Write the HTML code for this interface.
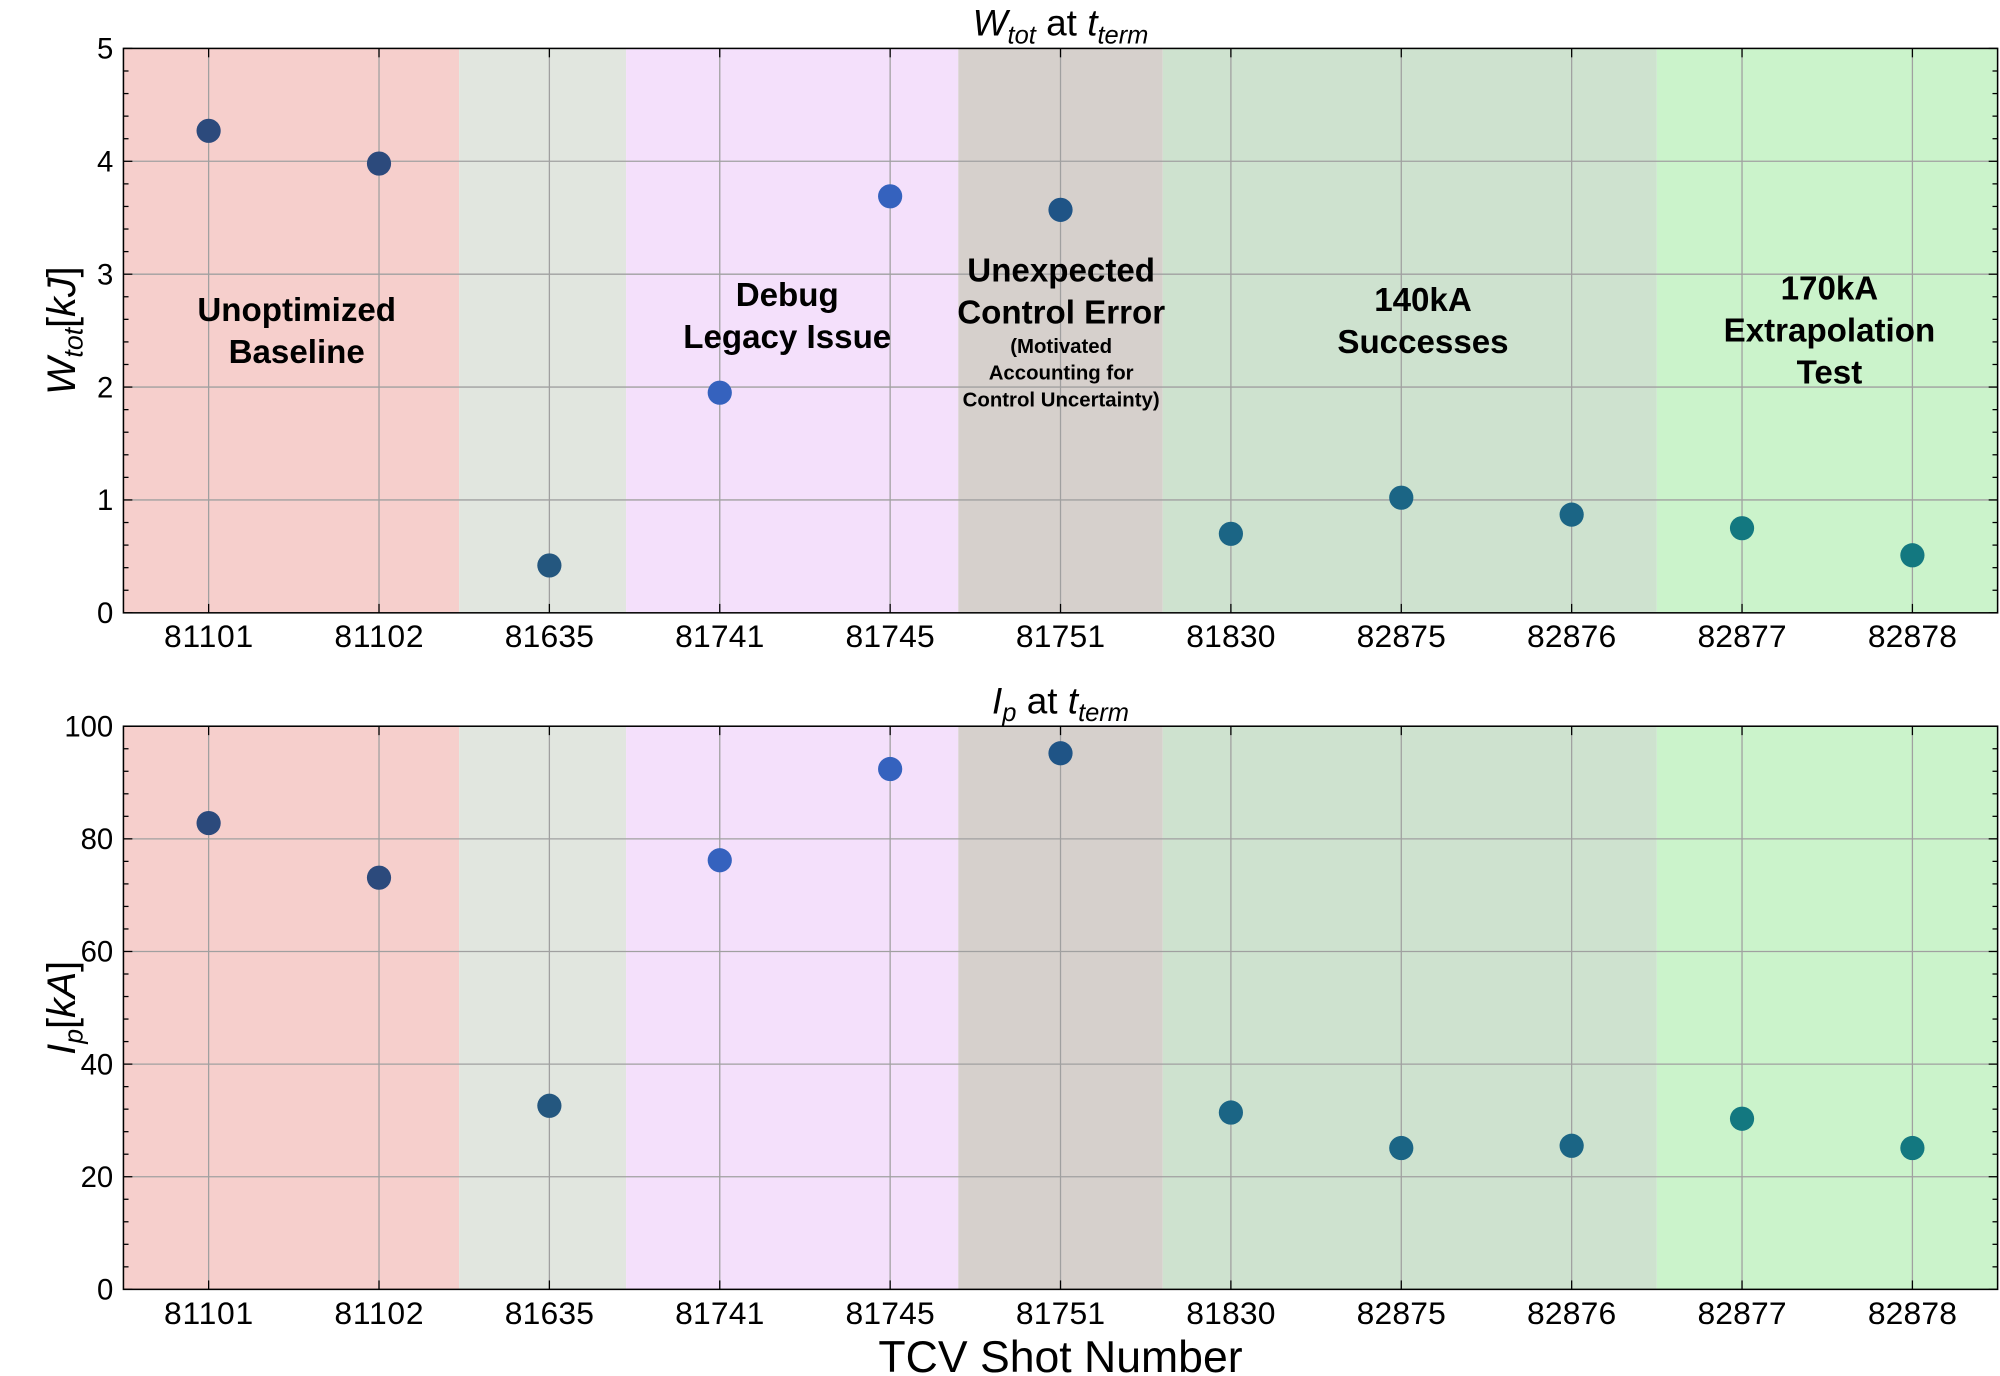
<!DOCTYPE html>
<html><head><meta charset="utf-8"><style>
html,body{margin:0;padding:0;background:#fff}
svg{display:block;font-family:"Liberation Sans",sans-serif}
</style></head><body>
<svg id="chart" width="2000" height="1376" viewBox="0 0 1568 1080" xmlns="http://www.w3.org/2000/svg"></svg>
<script>
const shots=["81101","81102","81635","81741","81745","81751","81830","82875","82876","82877","82878"];
const wtot=[4.27,3.98,0.42,1.95,3.69,3.57,0.70,1.02,0.87,0.75,0.51];
const ip=[82.8,73.1,32.6,76.2,92.4,95.2,31.4,25.1,25.5,30.3,25.1];
const pointColors=["#2c4a7c","#2c4a7c","#24577f","#3562be","#3562be","#1f5486","#1b6585","#1b6585","#1b6585","#137880","#137880"];
const bandStarts=[-0.5,1.47,2.45,4.40,5.6,8.5];
const bandEnds=[1.47,2.45,4.40,5.6,8.5,10.5];
const bandColors=["#f6cfcc","#e1e6df","#f4e0fb","#d6d0cc","#cee2cf","#cbf3cb"];
const svg=document.getElementById('chart');
const NS="http://www.w3.org/2000/svg";
function mk(tag,attrs,parent){const e=document.createElementNS(NS,tag);for(const k in attrs)e.setAttribute(k,attrs[k]);(parent||svg).appendChild(e);return e;}
const X0=96,X1=1567;
function xs(i){return X0+(i+0.5)/11*(X1-X0);}
function panel(name,top,bot,ymax,step,vals,title,ylab){
  const g=mk('g',{});
  
  
  const ys=v=>bot-(v/ymax)*(bot-top);
  bandStarts.forEach((s,i)=>{
    const r=mk('rect',{x:xs(s),y:top,width:xs(bandEnds[i])-xs(s),height:bot-top,fill:bandColors[i]},g);
    
    
  });
  for(let v=0;v<=ymax+1e-9;v+=step){
    const y=ys(v);
    if(v>0&&v<ymax) mk('line',{x1:X0,x2:X1,y1:y,y2:y,stroke:'#a0a0a0','stroke-width':1},g);
    const t=mk('text',{x:X0-8,y:y+8,'text-anchor':'end','font-size':23,fill:'#000'},g);t.textContent=v;
    
    
    mk('line',{x1:X0,x2:X0+7,y1:y,y2:y,stroke:'#000'},g);
    mk('line',{x1:X1,x2:X1-7,y1:y,y2:y,stroke:'#000'},g);
    if(v<ymax){for(let m=1;m<5;m++){const ym=ys(v+step*m/5);mk('line',{x1:X0,x2:X0+4,y1:ym,y2:ym,stroke:'#000'},g);mk('line',{x1:X1,x2:X1-4,y1:ym,y2:ym,stroke:'#000'},g);}}
  }
  shots.forEach((s,i)=>{
    const x=xs(i);
    mk('line',{x1:x,x2:x,y1:top,y2:bot,stroke:'#a0a0a0','stroke-width':1},g);
    mk('line',{x1:x,x2:x,y1:bot,y2:bot-7,stroke:'#000'},g);
    mk('line',{x1:x,x2:x,y1:top,y2:top+7,stroke:'#000'},g);
    const t=mk('text',{x:x,y:bot+27,'text-anchor':'middle','font-size':25,'textLength':70,fill:'#000'},g);t.textContent=s;
    
    
  });
  mk('rect',{x:X0,y:top,width:X1-X0,height:bot-top,fill:'none',stroke:'#000','stroke-width':1.2},g);
  vals.forEach((v,i)=>{
    const c=mk('circle',{cx:xs(i),cy:ys(v),r:9.5,fill:pointColors[i]},g);
    
    
  });
  const tt=mk('text',{x:(X0+X1)/2,y:top-10,'text-anchor':'middle','font-size':29},g);
  tt.innerHTML=title;
  
  
  const yl=mk('text',{x:0,y:0,'text-anchor':'middle','font-size':31,transform:`translate(58,${(top+bot)/2}) rotate(-90)`},g);
  yl.innerHTML=ylab;
  
  
  return ys;
}
panel('wtot',38,481,5,1,wtot,'<tspan font-style="italic">W</tspan><tspan font-style="italic" font-size="20" dy="6">tot</tspan><tspan dy="-6"> at </tspan><tspan font-style="italic">t</tspan><tspan font-style="italic" font-size="20" dy="6">term</tspan>','<tspan font-style="italic">W</tspan><tspan font-style="italic" font-size="21" dy="6">tot</tspan><tspan dy="-6">[</tspan><tspan font-style="italic">kJ</tspan>]');
panel('ip',570,1012,100,20,ip,'<tspan font-style="italic">I</tspan><tspan font-style="italic" font-size="20" dy="6">p</tspan><tspan dy="-6"> at </tspan><tspan font-style="italic">t</tspan><tspan font-style="italic" font-size="20" dy="6">term</tspan>','<tspan font-style="italic">I</tspan><tspan font-style="italic" font-size="21" dy="6">p</tspan><tspan dy="-6">[</tspan><tspan font-style="italic">kA</tspan>]');
const labels=[[232,[["Unoptimized",252],["Baseline",285]],26],[617,[["Debug",240],["Legacy Issue",273]],26],[832,[["Unexpected",221],["Control Error",254]],26],[1116,[["140kA",244],["Successes",277]],26],[1435,[["170kA",235],["Extrapolation",268],["Test",301]],26]];
labels.forEach(l=>{l[1].forEach(p=>{const t=mk('text',{x:l[0],y:p[1],'text-anchor':'middle','font-size':l[2],'font-weight':'bold'});t.textContent=p[0];

});});
[["(Motivated",277],["Accounting for",298],["Control Uncertainty)",319]].forEach(p=>{const t=mk('text',{x:832,y:p[1],'text-anchor':'middle','font-size':16,'font-weight':'bold'});t.textContent=p[0];

});
const xt=mk('text',{x:(X0+X1)/2,y:1077,'text-anchor':'middle','font-size':35});xt.textContent='TCV Shot Number';


</script>
</body></html>
